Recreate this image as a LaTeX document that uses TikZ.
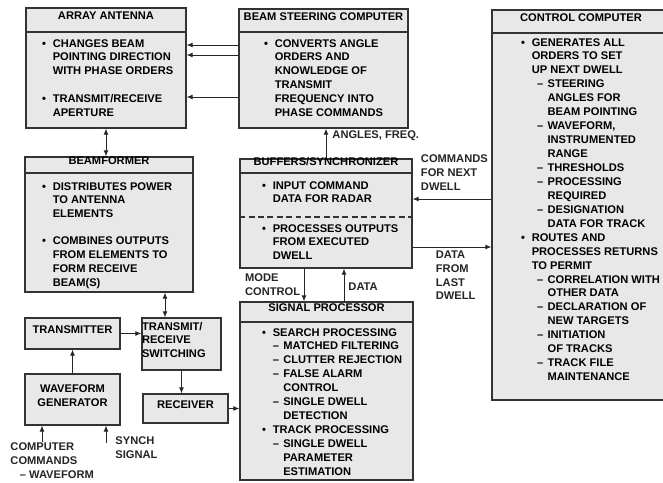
\documentclass[tikz,border=0pt]{standalone}
\usepackage{fontspec}
\setmainfont{Liberation Sans}
\usetikzlibrary{positioning,arrows.meta,fit}

\newcommand{\bitem}{\makebox[9pt][l]{\textbullet}}
\newcommand{\ditem}{\makebox[9pt][l]{--}}
\newcommand{\indt}[1][9pt]{\hspace*{#1}}

\begin{document}
\begin{tikzpicture}[x=0.03cm, y=-0.03cm,
    font=\fontsize{9.5}{11.9}\selectfont\bfseries,
    blk/.style={draw=black!80, line width=1.1pt, fill=black!9, inner sep=0pt},
    txt/.style={align=left, inner sep=0pt, anchor=north west},
    arr/.style={-{Latex[length=1.8mm,width=1.5mm]}, line width=0.8pt, black!85},
    arrs/.style={{Latex[length=1.8mm,width=1.5mm]}-{Latex[length=1.8mm,width=1.5mm]}, line width=0.8pt, black!85}]
  \useasboundingbox (0,0) rectangle (663,483);
  \clip (0,0) rectangle (663,483);
  \fill[white] (0,0) rectangle (663,483);

  \node[blk, fit={(26,8) (186,32)}] (AAt) {ARRAY ANTENNA};
  \node[blk, fit={(26,32) (186,128)}] (AA) {};
  \node[txt] (AAx) at (42,39) {\bitem CHANGES BEAM\\\indt POINTING DIRECTION\\\indt WITH PHASE ORDERS\\[11.9pt]
    \bitem TRANSMIT/RECEIVE\\\indt APERTURE};

  \node[blk, fit={(239,9) (408,32)}] (BSCt) {BEAM STEERING COMPUTER};
  \node[blk, fit={(239,32) (408,128)}] (BSC) {};
  \node[txt] (BSCx) at (264,39) {\bitem CONVERTS ANGLE\\\indt ORDERS AND\\\indt KNOWLEDGE OF\\\indt TRANSMIT\\
    \indt FREQUENCY INTO\\\indt PHASE COMMANDS};

  \node[blk, fit={(492,10) (670,33)}] (CCt) {CONTROL COMPUTER};
  \node[blk, fit={(492,33) (670,400)}] (CC) {};
  \node[txt] (CCx) at (521,38) {\bitem GENERATES ALL\\\indt ORDERS TO SET\\\indt UP NEXT DWELL\\
    \indt[13.5pt]\ditem STEERING\\\indt[22.5pt]ANGLES FOR\\\indt[22.5pt]BEAM POINTING\\
    \indt[13.5pt]\ditem WAVEFORM,\\\indt[22.5pt]INSTRUMENTED\\\indt[22.5pt]RANGE\\
    \indt[13.5pt]\ditem THRESHOLDS\\
    \indt[13.5pt]\ditem PROCESSING\\\indt[22.5pt]REQUIRED\\
    \indt[13.5pt]\ditem DESIGNATION\\\indt[22.5pt]DATA FOR TRACK\\
    \bitem ROUTES AND\\\indt PROCESSES RETURNS\\\indt TO PERMIT\\
    \indt[13.5pt]\ditem CORRELATION WITH\\\indt[22.5pt]OTHER DATA\\
    \indt[13.5pt]\ditem DECLARATION OF\\\indt[22.5pt]NEW TARGETS\\
    \indt[13.5pt]\ditem INITIATION\\\indt[22.5pt]OF TRACKS\\
    \indt[13.5pt]\ditem TRACK FILE\\\indt[22.5pt]MAINTENANCE};

  \node[blk, fit={(25,157) (193,173)}] (BFt) {BEAMFORMER};
  \node[blk, fit={(25,173) (193,292)}] (BF) {};
  \node[txt] (BFx) at (42,182) {\bitem DISTRIBUTES POWER\\\indt TO ANTENNA\\\indt ELEMENTS\\[11pt]
    \bitem COMBINES OUTPUTS\\\indt FROM ELEMENTS TO\\\indt FORM RECEIVE\\\indt BEAM(S)};

  \node[blk, fit={(240,159) (412,173)}] (BUFt) {BUFFERS/SYNCHRONIZER};
  \node[blk, fit={(240,173) (412,268)}] (BUF) {};
  \node[txt] (BUFa) at (262,181) {\bitem INPUT COMMAND\\\indt DATA FOR RADAR};
  \draw[black!80, line width=1pt, dash pattern=on 5pt off 3pt] (BUF.west |- 0,217) -- (BUF.east |- 0,217);
  \node[txt] (BUFb) at (262,224) {\bitem PROCESSES OUTPUTS\\\indt FROM EXECUTED\\\indt DWELL};

  \node[blk, fit={(240,302) (413,322)}] (SPt) {SIGNAL PROCESSOR};
  \node[blk, fit={(240,322) (413,480)}] (SP) {};
  \node[txt] (SPx) at (262,328) {\bitem SEARCH PROCESSING\\\indt\ditem MATCHED FILTERING\\
    \indt\ditem CLUTTER REJECTION\\\indt\ditem FALSE ALARM\\\indt[18pt]CONTROL\\
    \indt\ditem SINGLE DWELL\\\indt[18pt]DETECTION\\
    \bitem TRACK PROCESSING\\\indt\ditem SINGLE DWELL\\\indt[18pt]PARAMETER\\\indt[18pt]ESTIMATION};

  \node[blk, fit={(25,318) (120,349)}] (TX) {TRANSMITTER};
  \node[blk, fit={(142,318) (221,370)}, align=left] (TR) {TRANSMIT/\\RECEIVE\\SWITCHING};
  \node[blk, fit={(25,374) (120,425)}, align=center] (WG) {WAVEFORM\\GENERATOR};
  \node[blk, fit={(143,394) (228,423)}] (RX) {RECEIVER};

  \draw[arr] (BSC.west |- 0,45) -- (AA.east |- 0,45);
  \draw[arr] (BSC.west |- 0,55) -- (AA.east |- 0,55);
  \draw[arr] (BSC.west |- 0,97) -- (AA.east |- 0,97);
  \draw[arrs] (AA.south) -- (BFt.north -| AA.south);
  \draw[arr] (BUFt.north -| 326,0) -- (BSC.south -| 326,0)
    node[pos=0.77, right=0.18cm, inner sep=0pt] (lAF) {ANGLES, FREQ.};
  \draw[arr] (CC.west |- 0,199) -- (BUF.east |- 0,199)
    node[pos=0.9, anchor=south west, inner sep=0pt, yshift=0.24cm, align=left] (lCMD) {COMMANDS\\FOR NEXT\\DWELL};
  \draw[arr] (BUF.east |- 0,247) -- (CC.west |- 0,247)
    node[pos=0.29, anchor=north west, inner sep=0pt, yshift=-0.09cm, align=left] (lLAST) {DATA\\FROM\\LAST\\DWELL};
  \draw[arr] (BUF.south -| 304,0) -- (SPt.north -| 304,0)
    node[pos=0.49, left=0.1cm, inner sep=0pt, align=left] (lMODE) {MODE\\CONTROL};
  \draw[arr] (SPt.north -| 344,0) -- (BUF.south -| 344,0)
    node[pos=0.44, right=0.12cm, inner sep=0pt] (lDATA) {DATA};
  \draw[arrs] (BF.south -| 165,0) -- (TR.north -| 165,0);
  \draw[arr] (TX) -- (TR.west |- TX);
  \draw[arr] (WG) -- (TX);
  \draw[arr] (TR.south) -- (RX.north -| TR.south);
  \draw[arr] (RX) -- (SP.west |- RX);
  \coordinate (CMD) at (42,442);
  \coordinate (SYN) at (106,443);
  \draw[arr] (CMD) node[anchor=north west, inner sep=0pt, xshift=-0.96cm, align=left] (lCOMP)
    {COMPUTER\\COMMANDS\\\indt[8pt]-- WAVEFORM} -- (WG.south -| CMD);
  \draw[arr] (SYN) node[anchor=north west, inner sep=0pt, xshift=0.27cm, yshift=0.21cm, align=left] (lSYN)
    {SYNCH\\SIGNAL} -- (WG.south -| SYN);
\end{tikzpicture}
\end{document}
